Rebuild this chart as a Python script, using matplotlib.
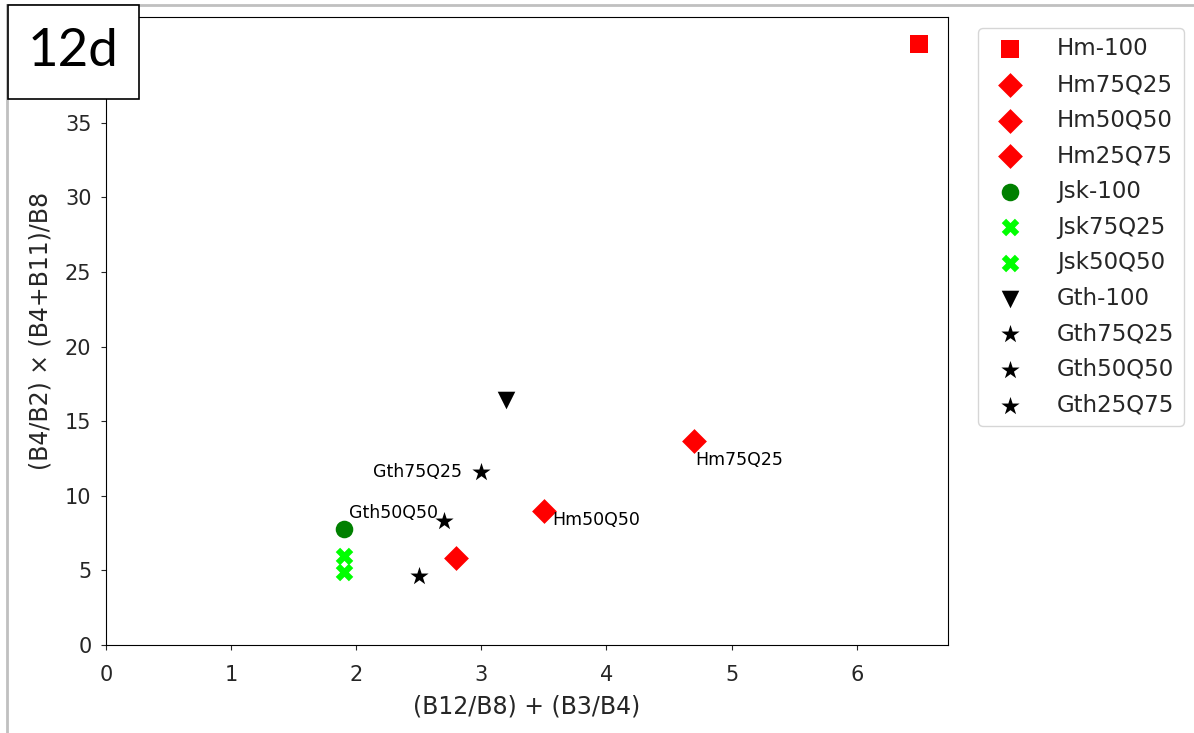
import matplotlib.pyplot as plt
from matplotlib.lines import Line2D
from matplotlib.patches import Rectangle

# sample names, markers, colours and index values
names = ["Hm-100", "Hm75Q25", "Hm50Q50", "Hm25Q75",
         "Jsk-100", "Jsk75Q25", "Jsk50Q50",
         "Gth-100", "Gth75Q25", "Gth50Q50", "Gth25Q75"]
x_vals = [6.5, 4.7, 3.5, 2.8, 1.9, 1.9, 1.9, 3.2, 3.0, 2.7, 2.5]
y_vals = [40.3, 13.7, 9.0, 5.8, 7.8, 5.95, 4.9, 16.4, 11.6, 8.3, 4.6]
markers = ["s", "D", "D", "D", "o", "X", "X", "v", "*", "*", "*"]
colors = ["#ff0000", "#ff0000", "#ff0000", "#ff0000",
          "#008000", "#00ff00", "#00ff00",
          "#000000", "#000000", "#000000", "#000000"]

# which points get a text label, and the offset (points) / alignment
annotated = {
    "Gth75Q25": ((-14, 0), "right", "center"),
    "Gth50Q50": ((-4, 6), "right", "center"),
    "Hm50Q50": ((6, -7), "left", "center"),
    "Hm75Q25": ((1, -14), "left", "center"),
}

fig = plt.figure(figsize=(11.94, 7.33), dpi=100)
ax = fig.add_axes([0.0888, 0.120, 0.7052, 0.857])

for name, x, y, m, c in zip(names, x_vals, y_vals, markers, colors):
    size = 160 if m != "*" else 190
    ax.scatter(x, y, marker=m, s=size, color=c, linewidths=0, label=name, zorder=3)

for name, x, y in zip(names, x_vals, y_vals):
    if name in annotated:
        off, ha, va = annotated[name]
        ax.annotate(name, (x, y), xytext=off, textcoords="offset points",
                    ha=ha, va=va, fontsize=12.5)

ax.set_xlim(left=0)
ax.set_ylim(bottom=0)
ax.tick_params(labelsize=15, colors="#262626", labelcolor="#262626")
ax.tick_params(axis="x", pad=11)
ax.tick_params(axis="y", pad=7)
ax.set_xlabel("(B12/B8) + (B3/B4)", fontsize=17, color="#262626", labelpad=7)
ax.set_ylabel("(B4/B2) × (B4+B11)/B8", fontsize=17, color="#262626", labelpad=9)

ax.legend(loc="upper left", bbox_to_anchor=(1.022, 1), fontsize=16.5,
          scatterpoints=1, handletextpad=1.05, labelspacing=0.55,
          labelcolor="#262626")

# panel tag and outer frame
fig.add_artist(Line2D([7 / 1194, 1], [1 - 5 / 733, 1 - 5 / 733],
                      color="#c0c0c0", lw=2, transform=fig.transFigure))
fig.add_artist(Line2D([7 / 1194, 7 / 1194], [0, 1 - 5 / 733],
                      color="#c0c0c0", lw=2, transform=fig.transFigure))
fig.add_artist(Rectangle((8 / 1194, 1 - 99 / 733), 131 / 1194, 94 / 733,
                         facecolor="white", edgecolor="black", lw=1.2,
                         transform=fig.transFigure, zorder=5))
fig.text(73.5 / 1194, 1 - 52 / 733, "12d", fontsize=38, family="Lato",
         ha="center", va="center", zorder=6)

fig.savefig("out.png", dpi=100)
